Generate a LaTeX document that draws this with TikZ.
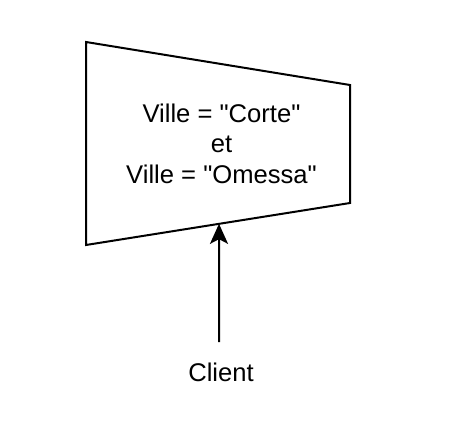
\documentclass[tikz,border=0pt]{standalone}
\usepackage{fontspec}
\setmainfont{Liberation Sans}[Ligatures=TeXOff]
\usetikzlibrary{arrows.meta,calc}
\begin{document}
\begin{tikzpicture}[x=0.75pt,y=-0.75pt,
  shapeline/.style={draw=black,line width=1.5pt,line join=miter},
  lbl/.style={font=\fontsize{19.2pt}{22.8pt}\selectfont,text=black,inner sep=0pt,align=center},
  conn/.style={draw=black,line width=1.5pt,-{Stealth[length=15pt,width=13.5pt,inset=3.5pt]}}]
\useasboundingbox[fill=white] (0,0) rectangle (473,431);
\coordinate (tl) at (86,42);
\coordinate (tr) at (350,85);
\coordinate (br) at (350,203);
\coordinate (bl) at (86,245);
\draw[shapeline] (tl) -- (tr) -- (br) -- (bl) -- cycle;
\node[lbl] (cond) at (221.5,143.5) {Ville = "Corte"\\et\\Ville = "Omessa"};
\node[lbl,anchor=base] (client) at (221,381.7) {Client};
\coordinate (tip) at ($(bl)!0.5038!(br)$);
\coordinate (src) at (219,342);
\draw[conn] (src) -- (tip);
\end{tikzpicture}
\end{document}
